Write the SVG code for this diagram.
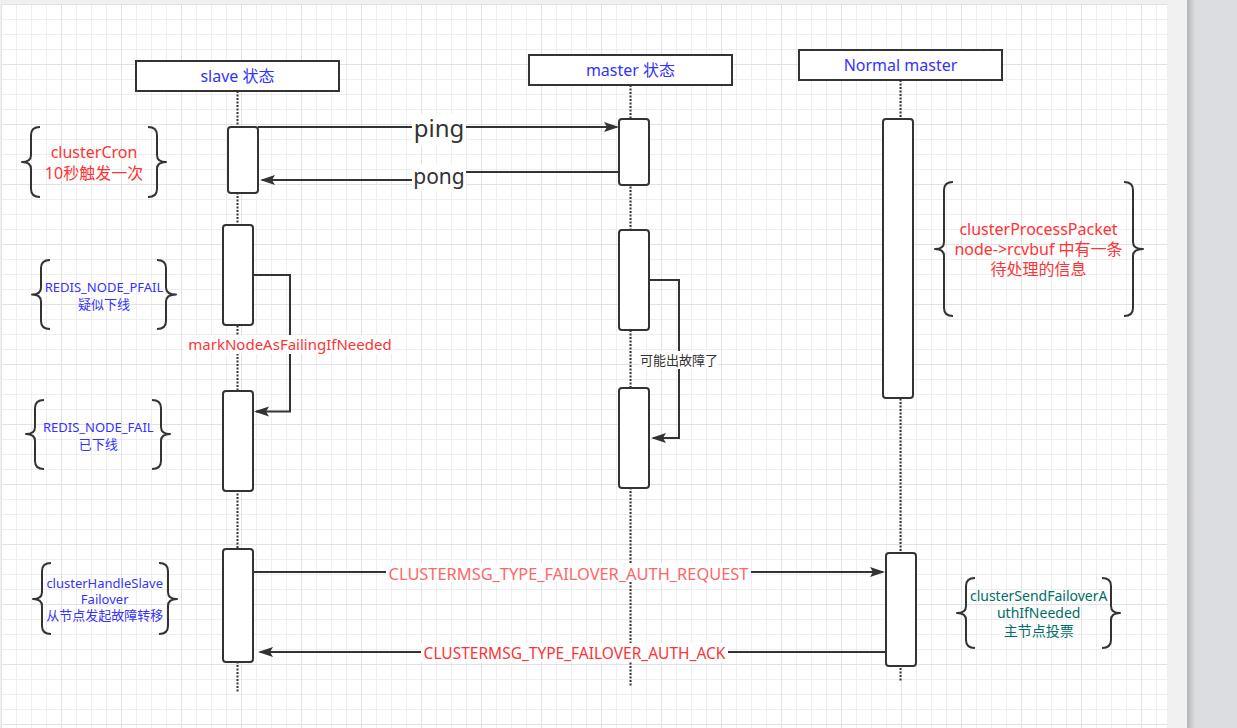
<svg xmlns="http://www.w3.org/2000/svg" width="1237" height="728" viewBox="0 0 1237 728">
<style>
text{font-family:"Noto Sans","Noto Sans CJK SC",sans-serif}
.hdr{fill:#fff;stroke:#333;stroke-width:2}
.act{fill:#fff;stroke:#333;stroke-width:2}
.ll{fill:none;stroke:#333;stroke-width:2;stroke-dasharray:2 1.5}
.edge{fill:none;stroke:#333;stroke-width:2}
.brace{fill:none;stroke:#333;stroke-width:2;stroke-linejoin:round}
.lbg{fill:#fff}
.blue{fill:#3333ff}
.red{fill:#ff3333}
.lred{fill:#ff6666}
.teal{fill:#006e66}
.dark{fill:#333}
</style>
<defs>
<pattern id="grid" patternUnits="userSpaceOnUse" x="1" y="4" width="60" height="60">
<rect width="60" height="60" fill="#fff"/>
<path d="M15.5 0V60M30.5 0V60M45.5 0V60M0 15.5H60M0 30.5H60M0 45.5H60" stroke="#eeeeee" stroke-width="1"/>
<path d="M0.5 0V60M0 0.5H60" stroke="#e2e2e2" stroke-width="1"/>
</pattern>
<linearGradient id="shadow" x1="0" y1="0" x2="1" y2="0">
<stop offset="0" stop-color="#b4b4b8"/>
<stop offset="1" stop-color="#dcdde0"/>
</linearGradient>
<marker id="arr" markerUnits="userSpaceOnUse" markerWidth="16" markerHeight="12" refX="13" refY="5" orient="auto">
<path d="M0,0 L15,5 L0,10 L3,5 z" fill="#333"/>
</marker>
</defs>

<g id="background">
<rect x="0" y="0" width="1237" height="728" fill="#f0f0f0"/>
<rect x="1" y="4" width="1166" height="724" fill="url(#grid)"/>
<rect x="1167" y="0" width="20" height="728" fill="#f0f0f0"/>
<rect x="1187" y="0" width="50" height="728" fill="#dcdde0"/>
<rect x="1187" y="0" width="8" height="728" fill="url(#shadow)"/>
</g>

<g id="lifelines">
<path class="ll" d="M237.5 91V693"/>
<path class="ll" d="M630.5 85V686"/>
<path class="ll" d="M900.5 80V682"/>
</g>

<g id="slave-header">
<rect class="hdr" x="136" y="61" width="203" height="30"/>
<text class="blue" x="237.5" y="82" font-size="16" text-anchor="middle">slave 状态</text>
</g>
<g id="master-header">
<rect class="hdr" x="529" y="55" width="203" height="30"/>
<text class="blue" x="630.5" y="76" font-size="16" text-anchor="middle">master 状态</text>
</g>
<g id="normal-master-header">
<rect class="hdr" x="799" y="50" width="203" height="30"/>
<text class="blue" x="900.5" y="71" font-size="16" text-anchor="middle">Normal master</text>
</g>

<g id="slave-activations">
<rect class="act" x="228" y="127" width="30" height="66" rx="3"/>
<rect class="act" x="223" y="225" width="30" height="100" rx="3"/>
<rect class="act" x="223" y="391" width="30" height="100" rx="3"/>
<rect class="act" x="223" y="549" width="30" height="113" rx="3"/>
</g>
<g id="master-activations">
<rect class="act" x="619" y="119" width="30" height="66" rx="3"/>
<rect class="act" x="619" y="230" width="30" height="100" rx="3"/>
<rect class="act" x="619" y="388" width="30" height="100" rx="3"/>
</g>
<g id="normal-master-activations">
<rect class="act" x="883" y="119" width="30" height="279" rx="3"/>
<rect class="act" x="886" y="553" width="30" height="113" rx="3"/>
</g>

<g id="connectors">
<path class="edge" d="M258 127H617" marker-end="url(#arr)"/>
<path class="edge" d="M619 172H440V180H262" marker-end="url(#arr)"/>
<path class="edge" d="M253 275H290V411.5H256" marker-end="url(#arr)"/>
<path class="edge" d="M649 280H679V438H653" marker-end="url(#arr)"/>
<path class="edge" d="M253 572H883" marker-end="url(#arr)"/>
<path class="edge" d="M886 652H260" marker-end="url(#arr)"/>
<rect class="lbg" x="412" y="114" width="54" height="32"/>
<text class="dark" x="439" y="137" font-size="24" text-anchor="middle">ping</text>
<rect class="lbg" x="412" y="164" width="54" height="27"/>
<text class="dark" x="439" y="184" font-size="21" text-anchor="middle">pong</text>
<rect class="lbg" x="186" y="335" width="208" height="19"/>
<text class="red" x="290" y="349.5" font-size="15" text-anchor="middle">markNodeAsFailingIfNeeded</text>
<rect class="lbg" x="639" y="351" width="79" height="18"/>
<text class="dark" x="679" y="365" font-size="13" text-anchor="middle">可能出故障了</text>
<rect class="lbg" x="386" y="563" width="365" height="19"/>
<text class="lred" x="568.5" y="579.5" font-size="16.4" text-anchor="middle">CLUSTERMSG_TYPE_FAILOVER_AUTH_REQUEST</text>
<rect class="lbg" x="421" y="643" width="307" height="19"/>
<text class="red" x="574.5" y="659" font-size="15.5" text-anchor="middle">CLUSTERMSG_TYPE_FAILOVER_AUTH_ACK</text>
</g>

<g id="note-clusterCron">
<path class="brace" d="M40 127Q31 127 31 135V155Q31 162 22 162Q31 162 31 169V189Q31 197 40 197"/>
<path class="brace" d="M148 127Q157 127 157 135V155Q157 162 166 162Q157 162 157 169V189Q157 197 148 197"/>
<text class="red" font-size="16" text-anchor="middle"><tspan x="94" y="158">clusterCron</tspan><tspan x="94" y="178.5">10秒触发一次</tspan></text>
</g>

<g id="note-pfail">
<path class="brace" d="M50 260Q41 260 41 268V287.5Q41 294.5 32 294.5Q41 294.5 41 301.5V321Q41 329 50 329"/>
<path class="brace" d="M157 260Q166 260 166 268V287.5Q166 294.5 176 294.5Q166 294.5 166 301.5V321Q166 329 157 329"/>
<text class="blue" font-size="13" text-anchor="middle"><tspan x="104" y="291.5">REDIS_NODE_PFAIL</tspan><tspan x="104" y="308.5">疑似下线</tspan></text>
</g>

<g id="note-fail">
<path class="brace" d="M44 400Q35 400 35 408V427Q35 434 26 434Q35 434 35 441V461Q35 469 44 469"/>
<path class="brace" d="M152 400Q161 400 161 408V427Q161 434 170 434Q161 434 161 441V461Q161 469 152 469"/>
<text class="blue" font-size="13" text-anchor="middle"><tspan x="98.3" y="431.5">REDIS_NODE_FAIL</tspan><tspan x="98.3" y="448.5">已下线</tspan></text>
</g>

<g id="note-handle-slave-failover">
<path class="brace" d="M51 563Q42 563 42 571V592Q42 599 33 599Q42 599 42 606V626Q42 634 51 634"/>
<path class="brace" d="M159 563Q168 563 168 571V592Q168 599 177 599Q168 599 168 606V626Q168 634 159 634"/>
<text class="blue" font-size="13" text-anchor="middle"><tspan x="104.7" y="588.3">clusterHandleSlave</tspan><tspan x="104.7" y="604">Failover</tspan><tspan x="104.7" y="620">从节点发起故障转移</tspan></text>
</g>

<g id="note-process-packet">
<path class="brace" d="M953 182Q944 182 944 190V242Q944 249 935 249Q944 249 944 256V308Q944 316 953 316"/>
<path class="brace" d="M1124 182Q1133 182 1133 190V242Q1133 249 1143 249Q1133 249 1133 256V308Q1133 316 1124 316"/>
<text class="red" font-size="16" text-anchor="middle"><tspan x="1038.5" y="235">clusterProcessPacket</tspan><tspan x="1038.5" y="255">node-&gt;rcvbuf 中有一条</tspan><tspan x="1038.5" y="275">待处理的信息</tspan></text>
</g>

<g id="note-send-failover-auth">
<path class="brace" d="M975 578Q966 578 966 586V606Q966 613 957 613Q966 613 966 620V640Q966 648 975 648"/>
<path class="brace" d="M1102 578Q1111 578 1111 586V606Q1111 613 1120 613Q1111 613 1111 620V640Q1111 648 1102 648"/>
<text class="teal" font-size="14" text-anchor="middle"><tspan x="1038.7" y="600.7">clusterSendFailoverA</tspan><tspan x="1038.7" y="618.3">uthIfNeeded</tspan><tspan x="1038.7" y="636">主节点投票</tspan></text>
</g>
</svg>
